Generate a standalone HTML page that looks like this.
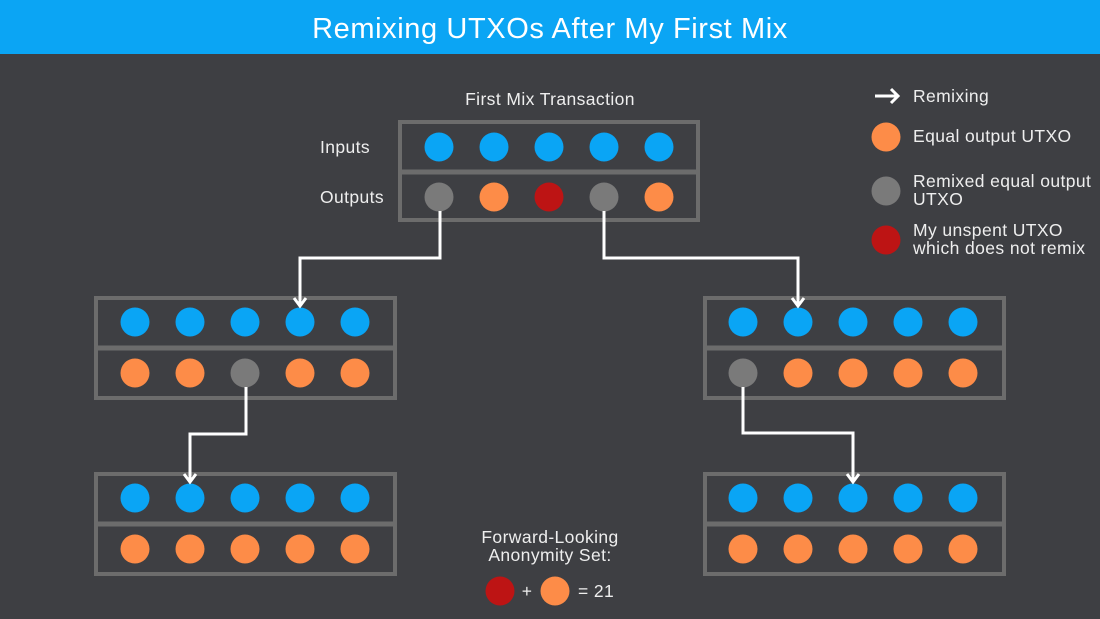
<!DOCTYPE html>
<html><head><meta charset="utf-8"><style>
body{margin:0;width:1100px;height:619px;overflow:hidden;background:#3e3f43;font-family:"Liberation Sans",sans-serif}
</style></head><body>
<svg width="1100" height="619" xmlns="http://www.w3.org/2000/svg" style="display:block">
<rect x="0" y="0" width="1100" height="619" fill="#3e3f43"/>
<rect x="0" y="0" width="1100" height="54" fill="#0ba5f4"/>
<text x="550" y="38" fill="#fff" font-size="29" letter-spacing="0.6" text-anchor="middle" font-family="Liberation Sans">Remixing UTXOs After My First Mix</text>
<g fill="none" stroke="#6c6c6c">
<rect x="400" y="122" width="298" height="98" stroke-width="4"/><line x1="400" y1="172" x2="698" y2="172" stroke-width="5"/>
<rect x="96" y="298" width="299" height="100" stroke-width="4"/><line x1="96" y1="348" x2="395" y2="348" stroke-width="5"/>
<rect x="96" y="474" width="299" height="100" stroke-width="4"/><line x1="96" y1="524" x2="395" y2="524" stroke-width="5"/>
<rect x="705" y="298" width="299" height="100" stroke-width="4"/><line x1="705" y1="348" x2="1004" y2="348" stroke-width="5"/>
<rect x="705" y="474" width="299" height="100" stroke-width="4"/><line x1="705" y1="524" x2="1004" y2="524" stroke-width="5"/>
</g>
<g>
<g fill="#0aa5f5"><circle cx="439" cy="147" r="14.5"/><circle cx="494" cy="147" r="14.5"/><circle cx="549" cy="147" r="14.5"/><circle cx="604" cy="147" r="14.5"/><circle cx="659" cy="147" r="14.5"/></g>
<circle cx="439" cy="197" r="14.5" fill="#7a7a7a"/><circle cx="494" cy="197" r="14.5" fill="#fd8c48"/><circle cx="549" cy="197" r="14.5" fill="#bd1414"/><circle cx="604" cy="197" r="14.5" fill="#7a7a7a"/><circle cx="659" cy="197" r="14.5" fill="#fd8c48"/>
<g fill="#0aa5f5"><circle cx="135" cy="322" r="14.5"/><circle cx="190" cy="322" r="14.5"/><circle cx="245" cy="322" r="14.5"/><circle cx="300" cy="322" r="14.5"/><circle cx="355" cy="322" r="14.5"/></g>
<g fill="#fd8c48"><circle cx="135" cy="373" r="14.5"/><circle cx="190" cy="373" r="14.5"/><circle cx="300" cy="373" r="14.5"/><circle cx="355" cy="373" r="14.5"/></g>
<circle cx="245" cy="373" r="14.5" fill="#7a7a7a"/>
<g fill="#0aa5f5"><circle cx="135" cy="498" r="14.5"/><circle cx="190" cy="498" r="14.5"/><circle cx="245" cy="498" r="14.5"/><circle cx="300" cy="498" r="14.5"/><circle cx="355" cy="498" r="14.5"/></g>
<g fill="#fd8c48"><circle cx="135" cy="549" r="14.5"/><circle cx="190" cy="549" r="14.5"/><circle cx="245" cy="549" r="14.5"/><circle cx="300" cy="549" r="14.5"/><circle cx="355" cy="549" r="14.5"/></g>
<g fill="#0aa5f5"><circle cx="743" cy="322" r="14.5"/><circle cx="798" cy="322" r="14.5"/><circle cx="853" cy="322" r="14.5"/><circle cx="908" cy="322" r="14.5"/><circle cx="963" cy="322" r="14.5"/></g>
<circle cx="743" cy="373" r="14.5" fill="#7a7a7a"/>
<g fill="#fd8c48"><circle cx="798" cy="373" r="14.5"/><circle cx="853" cy="373" r="14.5"/><circle cx="908" cy="373" r="14.5"/><circle cx="963" cy="373" r="14.5"/></g>
<g fill="#0aa5f5"><circle cx="743" cy="498" r="14.5"/><circle cx="798" cy="498" r="14.5"/><circle cx="853" cy="498" r="14.5"/><circle cx="908" cy="498" r="14.5"/><circle cx="963" cy="498" r="14.5"/></g>
<g fill="#fd8c48"><circle cx="743" cy="549" r="14.5"/><circle cx="798" cy="549" r="14.5"/><circle cx="853" cy="549" r="14.5"/><circle cx="908" cy="549" r="14.5"/><circle cx="963" cy="549" r="14.5"/></g>
</g>
<g fill="none" stroke="#fff" stroke-width="3">
<polyline points="440,211 440,258 300,258 300,306"/><polyline points="294,298 300,306 306,298"/>
<polyline points="604,211 604,258 798,258 798,306"/><polyline points="792,298 798,306 804,298"/>
<polyline points="246,387 246,434 190,434 190,482"/><polyline points="184,474 190,482 196,474"/>
<polyline points="743,387 743,433 853,433 853,482"/><polyline points="847,474 853,482 859,474"/>
<line x1="875" y1="96" x2="898" y2="96"/><polyline points="891,89 898,96 891,103"/>
</g>
<g fill="#eee" font-size="17.5" letter-spacing="0.4" font-family="Liberation Sans">
<text x="550" y="105" text-anchor="middle">First Mix Transaction</text>
<text x="320" y="153">Inputs</text>
<text x="320" y="203">Outputs</text>
<text x="913" y="102">Remixing</text>
<text x="913" y="142">Equal output UTXO</text>
<text x="913" y="187">Remixed equal output</text>
<text x="913" y="205">UTXO</text>
<text x="913" y="236">My  unspent UTXO</text>
<text x="913" y="254">which does not remix</text>
<text x="550" y="543" text-anchor="middle">Forward-Looking</text>
<text x="550" y="561" text-anchor="middle">Anonymity Set:</text>
<text x="527" y="597" text-anchor="middle">+</text>
<text x="578" y="597">= 21</text>
</g>
<circle cx="886" cy="137" r="14.5" fill="#fd8c48"/>
<circle cx="886" cy="191" r="14.5" fill="#7a7a7a"/>
<circle cx="886" cy="240" r="14.5" fill="#bd1414"/>
<circle cx="500" cy="591" r="14.5" fill="#bd1414"/>
<circle cx="555" cy="591" r="14.5" fill="#fd8c48"/>
</svg>
</body></html>
